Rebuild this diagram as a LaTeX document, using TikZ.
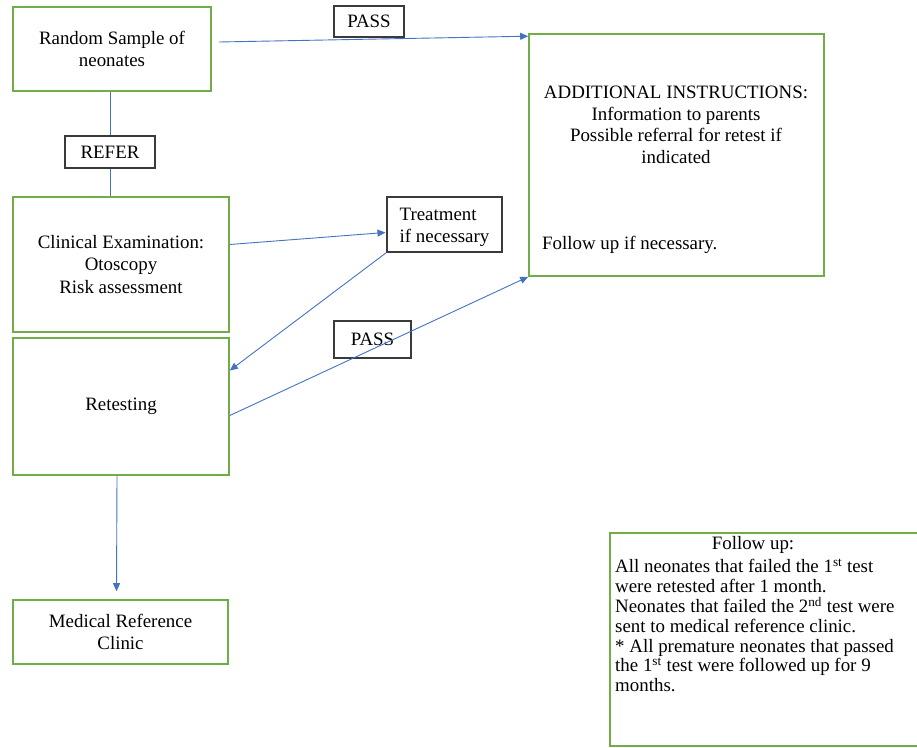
\documentclass[tikz,border=0pt]{standalone}
\usepackage{fontspec}
\setmainfont{Liberation Serif}
\usetikzlibrary{arrows.meta,calc}
\definecolor{boxgreen}{HTML}{70AD47}
\definecolor{linkblue}{HTML}{4472C4}
\definecolor{tagdark}{HTML}{3A3A3A}
\begin{document}
\begin{tikzpicture}[x=1pt,y=-1pt,
  every node/.style={font=\fontsize{18.9}{21.5}\selectfont, text=black},
  greenbox/.style={draw=boxgreen, line width=1.6pt, align=center, inner sep=0pt},
  tagbox/.style={draw=tagdark, line width=1.1pt, inner sep=0pt, align=center},
  conn/.style={draw=linkblue, line width=0.9pt},
  arr/.style={conn, -{Triangle[length=8pt,width=7pt]}}]
\clip (0,0) rectangle (917,747);
\fill[white] (0,0) rectangle (917,747);

% boxes
\node[greenbox, minimum width=198pt, minimum height=84pt] (rand) at (112,49) {Random Sample of\\neonates};
\node[tagbox, minimum width=90pt, minimum height=32pt] (refer) at (110,152) {REFER};
\node[tagbox, minimum width=70pt, minimum height=31pt] (pass1) at (369,21.5) {PASS};
\node[greenbox, minimum width=295pt, minimum height=242pt] (addl) at (676.5,155) {};
\node[align=center] (addltxt) at (676,125) {ADDITIONAL INSTRUCTIONS:\\Information to parents\\Possible referral for retest if\\indicated};
\node[anchor=west, inner sep=0pt] (addlfollow) at (542,245) {Follow up if necessary.};
\node[greenbox, minimum width=216pt, minimum height=135pt, font=\fontsize{18.9}{22.5}\selectfont] (clin) at (121,264.5) {Clinical Examination:\\Otoscopy\\Risk assessment};
\node[tagbox, minimum width=115pt, minimum height=55pt, font=\fontsize{18.9}{22}\selectfont] (treat) at (444.5,224.5) {\smash{\raisebox{-7pt}{\begin{tabular}[c]{@{}l@{}}Treatment\\if necessary\end{tabular}}}};
\node[greenbox, minimum width=216pt, minimum height=137pt] (retest) at (121,406.5) {Retesting};
\node[tagbox, minimum width=77pt, minimum height=37pt] (pass2) at (372.5,339.5) {PASS};
\node[greenbox, minimum width=215pt, minimum height=64pt] (med) at (120.5,632) {Medical Reference\\Clinic};
\node[greenbox, minimum width=330pt, minimum height=213pt] (follow) at (775,639.5) {};
\node (followhead) at (753,545) {Follow up:};
\node[anchor=north west, align=left, inner sep=0pt, font=\fontsize{18.9}{19.8}\selectfont] (followtxt) at (615,559) {All neonates that failed the 1\textsuperscript{st} test\\were retested after 1 month.\\Neonates that failed the 2\textsuperscript{nd} test were\\sent to medical reference clinic.\\* All premature neonates that passed\\the 1\textsuperscript{st} test were followed up for 9\\months.};

% connectors
\draw[conn] (rand.south -| refer) -- (refer.north);
\draw[conn] (refer.south) -- (clin.north -| refer);
\draw[arr] ($(rand.east)+(7,-7)$) -- ($(addl.north west)+(0,3)$);
\draw[arr] ($(clin.east)+(0,-20)$) -- ($(treat.west)+(-1,8)$);
\draw[arr] (treat.south west) -- ($(retest.east)+(0,-36)$);
\draw[arr] ($(retest.east)+(0,9)$) -- (addl.south west);
\draw[arr] ($(retest.south)+(-4,0)$) -- ($(med.north)+(-4,-8)$);
\end{tikzpicture}
\end{document}
